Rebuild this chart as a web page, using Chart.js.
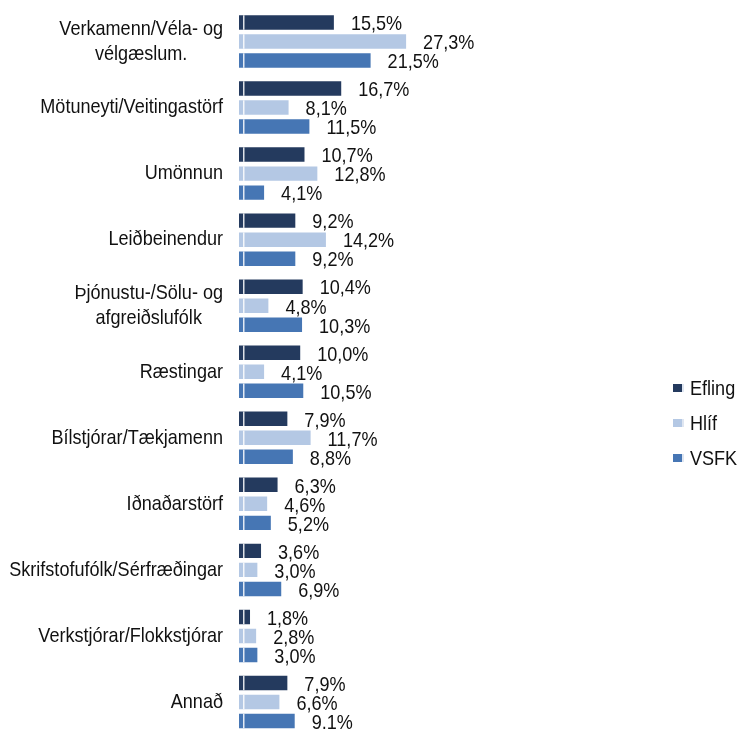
<!DOCTYPE html>
<html>
<head>
<meta charset="utf-8">
<script src="https://cdn.jsdelivr.net/npm/chart.js@4"></script>
<style>
html, body { margin: 0; padding: 0; background: #fff; overflow: hidden; }
#wrap { position: relative; width: 738px; height: 735px; }
#legend { position: absolute; left: 673px; top: 370px; font-family: "Liberation Sans", Arial, sans-serif; font-size: 21px; color: #111; }
.item { display: flex; align-items: center; height: 35px; }
.box { width: 9px; height: 8px; margin-right: 6px; border-right: 2px solid #dfe6f1; }
.txt { display: inline-block; transform: scaleX(0.86); transform-origin: left center; }
</style>
</head>
<body>
<div id="wrap">
  <canvas id="barChart"></canvas>
  <div id="legend"></div>
</div>
<script>
const categories = [
    ["Verkamenn/Véla- og", "vélgæslum."],
    "Mötuneyti/Veitingastörf",
    "Umönnun",
    "Leiðbeinendur",
    ["Þjónustu-/Sölu- og", "afgreiðslufólk"],
    "Ræstingar",
    "Bílstjórar/Tækjamenn",
    "Iðnaðarstörf",
    "Skrifstofufólk/Sérfræðingar",
    "Verkstjórar/Flokkstjórar",
    "Annað"
];

const efling = [15.5, 16.7, 10.7, 9.2, 10.4, 10.0, 7.9, 6.3, 3.6, 1.8, 7.9];
const hlif   = [27.3, 8.1, 12.8, 14.2, 4.8, 4.1, 11.7, 4.6, 3.0, 2.8, 6.6];
const vsfk   = [21.5, 11.5, 4.1, 9.2, 10.3, 10.5, 8.8, 5.2, 6.9, 3.0, 9.1];

const seriesNames = ["Efling", "Hlíf", "VSFK"];
const colors = ["#243a5e", "#b4c8e4", "#4676b4"];

const FONT = '21px "Liberation Sans", Arial, sans-serif';
const SQUEEZE = 0.86; // text in the original is horizontally narrow

function fmt(v) {
    return v.toFixed(1).replace(".", ",") + "%";
}

// draw text squeezed horizontally; align: "left" or "center"
function narrowText(ctx, s, x, y, align) {
    ctx.save();
    ctx.translate(x, y);
    ctx.scale(SQUEEZE, 1);
    ctx.textAlign = align;
    ctx.fillText(s, 0, 0);
    ctx.restore();
}

// labels, category names and the little white stripe in each bar
const drawExtras = {
    id: "drawExtras",
    afterDatasetsDraw(chart) {
        const ctx = chart.ctx;
        const x0 = chart.scales.x.getPixelForValue(0);
        ctx.save();
        ctx.font = FONT;
        ctx.textBaseline = "middle";

        chart.data.datasets.forEach((ds, i) => {
            chart.getDatasetMeta(i).data.forEach((bar, j) => {
                const h = bar.height;
                ctx.fillStyle = "rgba(255,255,255,0.85)";
                ctx.fillRect(x0 + 4, bar.y - h / 2, 1.5, h);

                ctx.fillStyle = "#111";
                narrowText(ctx, fmt(ds.data[j]), bar.x + 17, bar.y + 2, "left");
            });
        });

        const yScale = chart.scales.y;
        ctx.fillStyle = "#111";
        categories.forEach((c, j) => {
            const lines = Array.isArray(c) ? c : [c];
            const widest = Math.max(...lines.map(l => ctx.measureText(l).width)) * SQUEEZE;
            const cx = 223 - widest / 2;
            const cy = yScale.getPixelForValue(j);
            lines.forEach((l, k) => {
                narrowText(ctx, l, cx, cy + (k - (lines.length - 1) / 2) * 25, "center");
            });
        });

        ctx.restore();
    }
};

const ctx1 = document.getElementById("barChart");

const barChart = new Chart(ctx1, {
    type: "bar",
    data: {
        labels: categories,
        datasets: [
            { label: seriesNames[0], data: efling, backgroundColor: colors[0] },
            { label: seriesNames[1], data: hlif, backgroundColor: colors[1] },
            { label: seriesNames[2], data: vsfk, backgroundColor: colors[2] }
        ]
    },
    options: {
        indexAxis: "y",
        responsive: true,
        maintainAspectRatio: false,
        animation: false,
        categoryPercentage: 0.864,
        barPercentage: 0.76,
        layout: { padding: { left: 239, right: 95, top: 8.5, bottom: 0 } },
        scales: {
            x: { display: false, min: 0, max: 66 },
            y: { display: false }
        },
        plugins: {
            legend: { display: false },
            tooltip: { enabled: false }
        }
    },
    plugins: [drawExtras]
});

// LEGEND
document.getElementById("legend").innerHTML =
    seriesNames.map((n, i) =>
        `<div class="item"><span class="box" style="background:${colors[i]}"></span><span class="txt">${n}</span></div>`
    ).join("");
</script>
</body>
</html>
